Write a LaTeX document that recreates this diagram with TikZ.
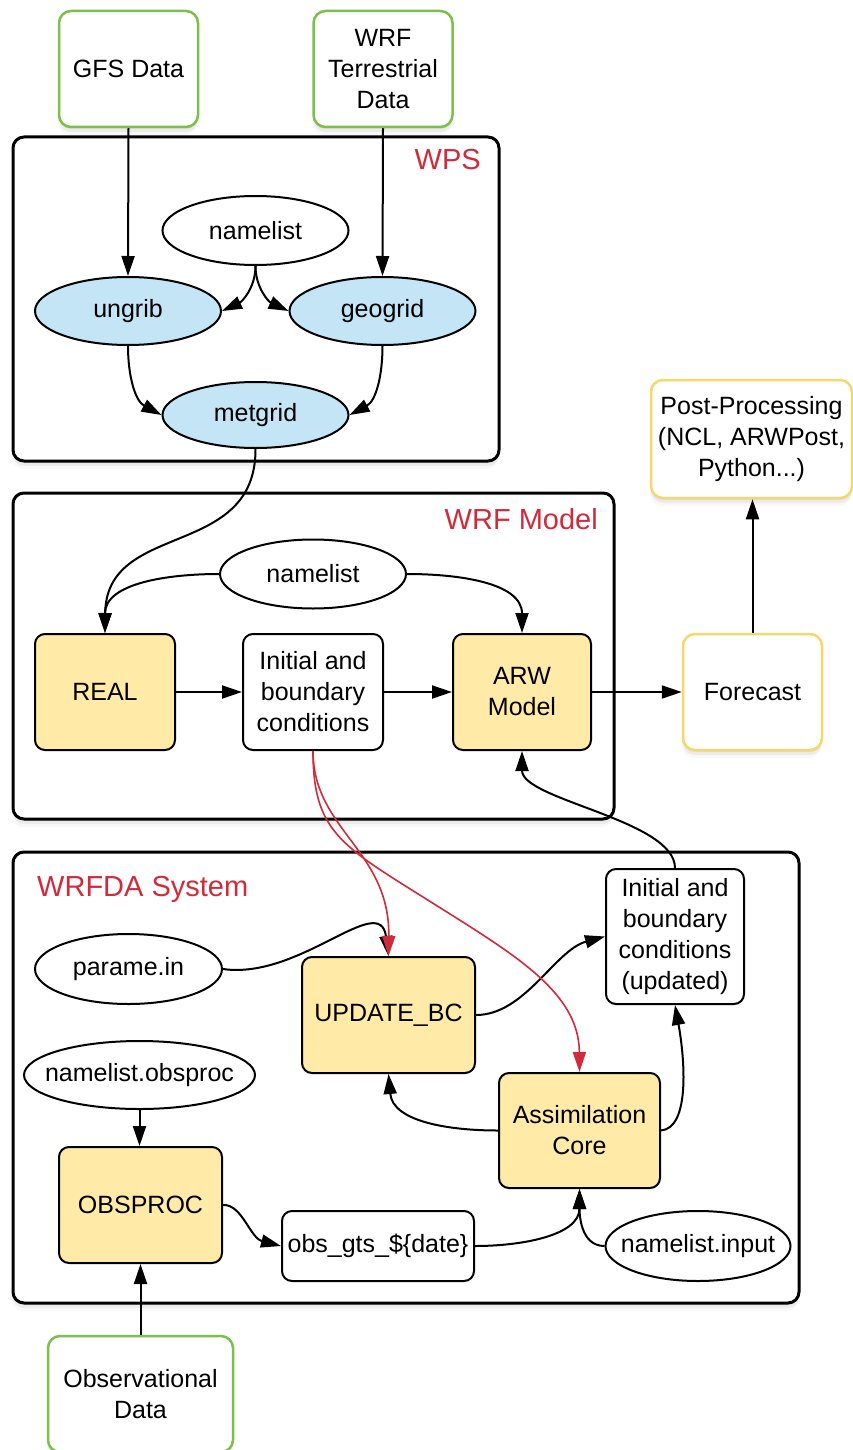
\documentclass[tikz,border=0pt]{standalone}
\usepackage{fontspec}
\setmainfont{Liberation Sans}
\usetikzlibrary{arrows.meta,shadows,shapes.geometric}
\definecolor{blu}{HTML}{C3E5F6}
\definecolor{yel}{HTML}{FFEAA7}
\definecolor{yelb}{HTML}{F9D66C}
\definecolor{grn}{HTML}{7CC04B}
\definecolor{rd}{HTML}{D12B3B}
\newcommand{\zwbox}[1]{\makebox[0pt]{#1}}
\begin{document}
\begin{tikzpicture}[x=1pt,y=-1pt,font=\fontsize{25}{31}\selectfont,
  shd/.style={drop shadow={opacity=0.14,shadow xshift=0pt,shadow yshift=-2pt},
              drop shadow={opacity=0.10,shadow xshift=0pt,shadow yshift=-5pt},
              drop shadow={opacity=0.06,shadow xshift=-1pt,shadow yshift=-8pt}},
  container/.style={draw,line width=3pt,rounded corners=11pt,fill=white,shd,inner sep=0pt},
  greenbox/.style={draw=grn,line width=2.5pt,rounded corners=12pt,fill=white,shd,align=center,inner sep=0pt},
  ybord/.style={draw=yelb,line width=2.5pt,rounded corners=12pt,fill=white,shd,align=center,inner sep=0pt},
  ybox/.style={draw,line width=2pt,rounded corners=10pt,fill=yel,align=center,inner sep=0pt},
  wbox/.style={draw,line width=2pt,rounded corners=10pt,fill=white,align=center,inner sep=0pt},
  ellip/.style={ellipse,draw,line width=2pt,fill=white,inner sep=0pt},
  blueell/.style={ellip,fill=blu},
  lbl/.style={text=rd,font=\fontsize{29}{34}\selectfont,inner sep=0pt},
  arr/.style={line width=2pt,-{Triangle[length=20pt,width=13pt]}},
  rarr/.style={draw=rd,line width=1.6pt,-{Triangle[length=20pt,width=13pt]},rd}]
\useasboundingbox (0,0) rectangle (852,1450);

% containers
\node[container,minimum width=486pt,minimum height=324pt] (wps) at (256,299) {};
\node[container,minimum width=601pt,minimum height=326pt] (wrfm) at (313.5,656) {};
\node[container,minimum width=786pt,minimum height=451pt] (wrfda) at (406,1077.5) {};
\node[lbl,anchor=east] (wpsl) at (481,160) {WPS};
\node[lbl,anchor=east] (wrfml) at (598,519) {WRF Model};
\node[lbl,anchor=west] (wrfdal) at (37,889) {WRFDA System};

% top inputs
\node[greenbox,minimum width=139pt,minimum height=116pt] (gfs) at (128.5,69) {GFS Data};
\node[greenbox,minimum width=139pt,minimum height=116pt] (wrft) at (383,69) {WRF\\Terrestrial\\Data};

% WPS
\node[ellip,minimum width=186pt,minimum height=69pt] (nl1) at (255.5,230.5) {\zwbox{namelist}};
\node[blueell,minimum width=186pt,minimum height=68pt] (ungrib) at (128,311) {\zwbox{ungrib}};
\node[blueell,minimum width=186pt,minimum height=68pt] (geogrid) at (382.5,311) {\zwbox{geogrid}};
\node[blueell,minimum width=186pt,minimum height=66pt] (metgrid) at (255.5,415) {\zwbox{metgrid}};

% WRF Model
\node[ellip,minimum width=186pt,minimum height=69pt] (nl2) at (313,574) {\zwbox{namelist}};
\node[ybox,minimum width=140pt,minimum height=116pt] (real) at (105,692) {REAL};
\node[wbox,minimum width=140pt,minimum height=116pt] (ic) at (313,692) {Initial and\\boundary\\conditions};
\node[ybox,minimum width=138pt,minimum height=116pt] (arw) at (522,692) {ARW\\Model};
\node[ybord,minimum width=139pt,minimum height=116pt] (fc) at (752.5,692) {Forecast};
\node[ybord,minimum width=201pt,minimum height=118pt] (pp) at (751.5,439) {Post-Processing\\(NCL, ARWPost,\\Python...)};

% WRFDA
\node[wbox,minimum width=138pt,minimum height=135pt] (icu) at (675,936.5) {Initial and\\boundary\\conditions\\(updated)};
\node[ellip,minimum width=187pt,minimum height=70pt] (par) at (128.5,969) {\zwbox{parame.in}};
\node[ybox,minimum width=173pt,minimum height=116pt] (upd) at (388.5,1015) {UPDATE\_BC};
\node[ellip,minimum width=231pt,minimum height=68pt] (nlo) at (139.5,1075) {\zwbox{namelist.obsproc}};
\node[ybox,minimum width=161pt,minimum height=115pt] (asm) at (579.5,1130.5) {Assimilation\\Core};
\node[ybox,minimum width=163pt,minimum height=116pt] (obsp) at (140.5,1205) {OBSPROC};
\node[wbox,minimum width=192pt,minimum height=70pt] (gts) at (378,1246) {obs\_gts\_\$\{date\}};
\node[ellip,minimum width=185pt,minimum height=70pt] (nli) at (698,1246) {\zwbox{namelist.input}};
\node[greenbox,minimum width=185pt,minimum height=116pt] (od) at (140.5,1394) {Observational\\Data};

% WPS arrows
\draw[arr] (gfs.south) -- (ungrib.north);
\draw[arr] (wrft.south) -- (geogrid.north);
\draw[arr] (nl1.south) to[out=-90,in=25] (ungrib.east);
\draw[arr] (nl1.south) to[out=-90,in=155] (geogrid.west);
\draw[arr] (ungrib.south) to[out=-90,in=152] (metgrid.west);
\draw[arr] (geogrid.south) to[out=-90,in=28] (metgrid.east);
\draw[arr] (metgrid.south) .. controls (256,560) and (106,520) .. (real.north);

% WRF Model arrows
\draw[arr] (nl2.west) to[out=180,in=90] (real.north);
\draw[arr] (nl2.east) to[out=0,in=90] (arw.north);
\draw[arr] (real.east) -- (ic.west);
\draw[arr] (ic.east) -- (arw.west);
\draw[arr] (arw.east) -- (fc.west);
\draw[arr] (fc.north) -- (fc.north |- pp.south);

% WRFDA arrows
\draw[arr] (icu.north) .. controls (675,820) and (522,800) .. (arw.south);
\draw[arr] (par.east) .. controls (300,980) and (380,890) .. (upd.north);
\draw[arr] (upd.east) .. controls (525,1015) and (555,950) .. (icu.west);
\draw[arr] (asm.west) to[out=180,in=-85] (upd.south);
\draw[arr] (asm.east) .. controls (690,1128) and (685,1060) .. (icu.south);
\draw[arr] (gts.east) to[out=0,in=-90] (asm.south);
\draw[arr] (nli.west) to[out=180,in=-90] (asm.south);
\draw[arr] (obsp.east) .. controls (242,1204) and (250,1238) .. (gts.west);
\draw[arr] (nlo.south) -- (nlo.south |- obsp.north);
\draw[arr] (od.north) -- (od.north |- obsp.south);

% red arrows
\draw[rarr] (ic.south) .. controls (313,830) and (390,850) .. (upd.north);
\coordinate (rmid) at (423,897);
\draw[rarr] (ic.south) .. controls (313,830) and (340,845) .. (rmid) .. controls (510,952) and (579,990) .. (asm.north);
\end{tikzpicture}
\end{document}
